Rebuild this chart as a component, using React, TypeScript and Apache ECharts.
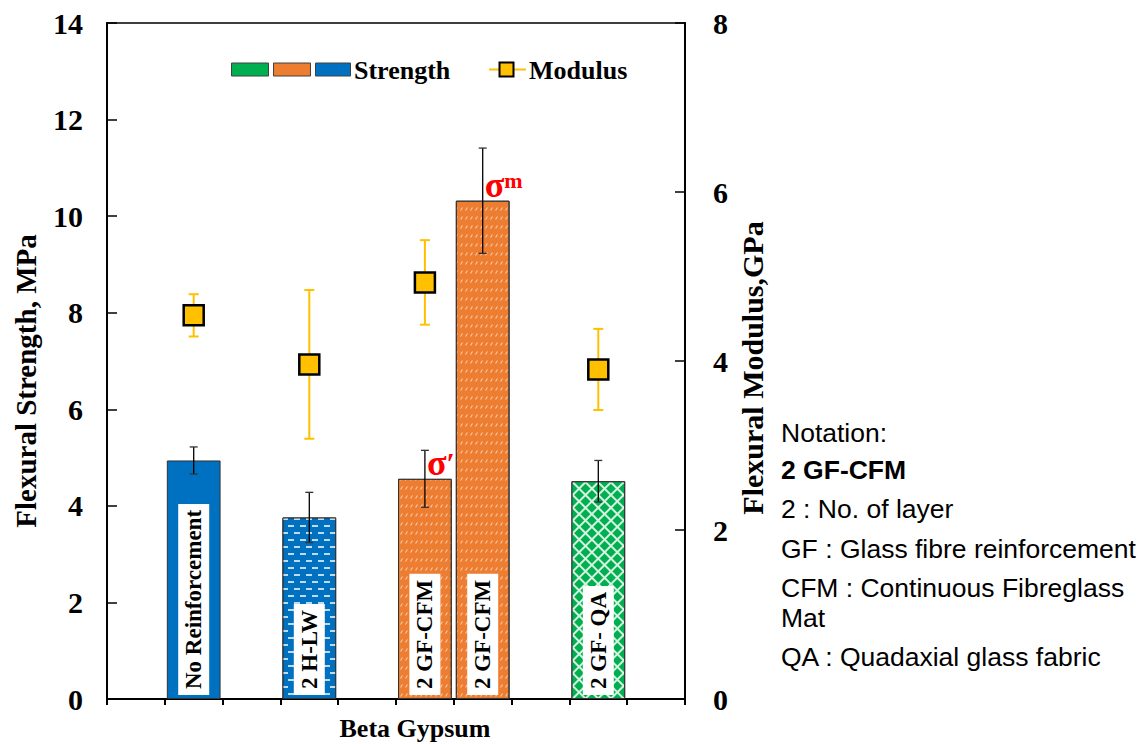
import React, { useEffect, useRef } from "react";
import * as echarts from "echarts";

// ---- data ----
const categories = ["", "", "", "", "", "", "", "", "", ""];
const barSlots = [1, 3, 5, 6, 8];
const barLabels = ["No Reinforcement", "2 H-LW", "2 GF-CFM", "2 GF-CFM", "2 GF- QA"];
const strength = [4.94, 3.76, 4.56, 10.32, 4.51];
const strengthErr = [0.28, 0.52, 0.59, 1.09, 0.43];
const barKinds = ["plain", "hlw", "cfm", "cfm", "qa"];
const modulusSlots = [1, 3, 5, 8];
const modulus = [4.54, 3.96, 4.93, 3.9];
const modulusErr = [0.25, 0.88, 0.5, 0.48];
const strengthAxis = { min: 0, max: 14, interval: 2 };
const modulusAxis = { min: 0, max: 8, interval: 2 };
const annotations = [
  { bar: 2, main: "σ", sup: "′" },
  { bar: 3, main: "σ", sup: "m" },
];
const notationLines = [
  { text: "Notation:", bold: false },
  { text: "2 GF-CFM", bold: true },
  { text: "2 : No. of layer", bold: false },
  { text: "GF : Glass fibre reinforcement", bold: false },
  { text: "CFM : Continuous Fibreglass", bold: false },
  { text: "Mat", bold: false },
  { text: "QA : Quadaxial glass fabric", bold: false },
];
const notationY = [433, 470, 509, 549, 588, 618, 657];

// ---- styles ----
const SERIF = '"Liberation Serif", "DejaVu Serif", serif';
const SANS = '"Liberation Sans", Arial, sans-serif';
const BLUE = "#0070C0";
const ORANGE = "#ED7D31";
const GREEN = "#00B050";
const GOLD = "#FFC000";

const kindStyle: Record<string, any> = {
  plain: { color: BLUE },
  hlw: {
    color: BLUE,
    decal: {
      symbol: "rect",
      symbolSize: 1,
      color: "rgba(255,255,255,0.75)",
      dashArrayX: [
        [6, 6],
        [0, 6, 6, 0],
      ],
      dashArrayY: [2, 5],
      rotation: 0,
    },
  },
  cfm: {
    color: ORANGE,
    decal: {
      symbol: "path://M3,0 L5,0 L2,5 L0,5 Z",
      symbolSize: 1,
      color: "rgba(255,255,255,0.6)",
      dashArrayX: [3, 2],
      dashArrayY: [4, 5],
      rotation: 0,
    },
  },
  qa: {
    color: "#d6f2e1",
    decal: {
      symbol: "rect",
      symbolSize: 1,
      color: GREEN,
      dashArrayX: [7, 1.6],
      dashArrayY: [7, 1.6],
      rotation: Math.PI / 4,
    },
  },
};

function errRender(color: string, capW: number, lw: number, capColor: string) {
  return (params: any, api: any) => {
    const x = api.value(0);
    const v = api.value(1);
    const e = api.value(2);
    const top = api.coord([x, v + e]);
    const bot = api.coord([x, v - e]);
    return {
      type: "group",
      children: [
        {
          type: "line",
          shape: { x1: top[0], y1: top[1], x2: bot[0], y2: bot[1] },
          style: { stroke: color, lineWidth: lw },
        },
        {
          type: "line",
          shape: { x1: top[0] - capW / 2, y1: top[1], x2: top[0] + capW / 2, y2: top[1] },
          style: { stroke: capColor, lineWidth: lw },
        },
        {
          type: "line",
          shape: { x1: bot[0] - capW / 2, y1: bot[1], x2: bot[0] + capW / 2, y2: bot[1] },
          style: { stroke: capColor, lineWidth: lw },
        },
      ],
    };
  };
}

export default function App() {
  const ref = useRef<HTMLDivElement>(null);

  useEffect(() => {
    if (!ref.current) return;
    const chart = echarts.init(ref.current, undefined, { renderer: "svg" });

    const barData = categories.map((_, i) => {
      const k = barSlots.indexOf(i);
      if (k < 0) return "-";
      const st = kindStyle[barKinds[k]];
      return {
        value: strength[k],
        itemStyle: { ...st, borderColor: "#333", borderWidth: 1 },
        label: { formatter: barLabels[k] },
      };
    });

    const strengthErrData = barSlots.map((s, k) => [s, strength[k], strengthErr[k]]);
    const modulusData = modulusSlots.map((s, k) => [s, modulus[k]]);
    const modulusErrData = modulusSlots.map((s, k) => [s, modulus[k], modulusErr[k]]);
    const annData = annotations.map((a) => [barSlots[a.bar], strength[a.bar], a.main, a.sup]);

    const axisLabelStyle = {
      color: "#000",
      fontFamily: SERIF,
      fontWeight: "bold" as const,
      fontSize: 30,
    };

    const option: any = {
      animation: false,
      backgroundColor: "#fff",
      grid: {
        left: 107,
        right: 458,
        top: 23,
        bottom: 45,
        show: true,
        borderColor: "#000",
        borderWidth: 1.5,
        backgroundColor: "transparent",
      },
      xAxis: {
        type: "category",
        data: categories,
        boundaryGap: true,
        axisLine: { show: true, lineStyle: { color: "#000", width: 2 } },
        axisTick: { show: true, interval: 0, length: 6, lineStyle: { color: "#000", width: 2 } },
        axisLabel: { show: false },
        splitLine: { show: false },
      },
      yAxis: [
        {
          type: "value",
          min: strengthAxis.min,
          max: strengthAxis.max,
          interval: strengthAxis.interval,
          position: "left",
          axisLine: { show: true, lineStyle: { color: "#000", width: 2 } },
          axisTick: { show: true, inside: true, length: 10, lineStyle: { color: "#000", width: 1.5 } },
          axisLabel: { ...axisLabelStyle, margin: 24 },
          splitLine: { show: false },
        },
        {
          type: "value",
          min: modulusAxis.min,
          max: modulusAxis.max,
          interval: modulusAxis.interval,
          position: "right",
          axisLine: { show: true, lineStyle: { color: "#000", width: 2 } },
          axisTick: { show: true, inside: true, length: 10, lineStyle: { color: "#000", width: 1.5 } },
          axisLabel: { ...axisLabelStyle, margin: 28 },
          splitLine: { show: false },
        },
      ],
      series: [
        {
          type: "bar",
          data: barData,
          barCategoryGap: "7%",
          z: 2,
          label: {
            show: true,
            position: "insideBottom",
            distance: 4,
            rotate: 90,
            align: "left",
            verticalAlign: "middle",
            backgroundColor: "#fff",
            padding: [4, 6, 4, 6],
            color: "#000",
            fontFamily: SERIF,
            fontWeight: "bold",
            fontSize: 23,
          },
        },
        {
          type: "custom",
          data: strengthErrData,
          z: 4,
          renderItem: errRender("#000", 8, 1.3, "#333"),
        },
        {
          type: "custom",
          yAxisIndex: 1,
          data: modulusErrData,
          z: 5,
          renderItem: errRender(GOLD, 10, 2, GOLD),
        },
        {
          type: "scatter",
          yAxisIndex: 1,
          data: modulusData,
          symbol: "rect",
          symbolSize: 20,
          z: 6,
          itemStyle: { color: GOLD, borderColor: "#000", borderWidth: 2.5, opacity: 1 },
        },
        {
          type: "custom",
          data: annData,
          z: 7,
          renderItem: (params: any, api: any) => {
            const d = annData[params.dataIndex];
            const pt = api.coord([d[0], d[1]]);
            return {
              type: "text",
              x: pt[0] + 2,
              y: pt[1] - 1,
              style: {
                text: "{a|" + d[2] + "}{b|" + d[3] + "}",
                align: "left",
                verticalAlign: "bottom",
                rich: {
                  a: { fontFamily: SERIF, fontWeight: "bold", fontSize: 36, fill: "#FF0000", color: "#FF0000", lineHeight: 30 },
                  b: {
                    fontFamily: SERIF,
                    fontWeight: "bold",
                    fontSize: d[3] === "m" ? 22 : 30,
                    fill: "#FF0000",
                    color: "#FF0000",
                    verticalAlign: "top",
                  },
                },
              },
            };
          },
        },
      ],
      graphic: [
        {
          type: "text",
          x: 26,
          y: 381,
          rotation: Math.PI / 2,
          style: {
            text: "Flexural Strength, MPa",
            fontFamily: SERIF,
            fontWeight: "bold",
            fontSize: 29,
            fill: "#000",
            align: "center",
            verticalAlign: "middle",
          },
        },
        {
          type: "text",
          x: 752,
          y: 368,
          rotation: Math.PI / 2,
          style: {
            text: "Flexural Modulus,GPa",
            fontFamily: SERIF,
            fontWeight: "bold",
            fontSize: 30,
            fill: "#000",
            align: "center",
            verticalAlign: "middle",
          },
        },
        {
          type: "text",
          x: 415,
          y: 728,
          style: {
            text: "Beta Gypsum",
            fontFamily: SERIF,
            fontWeight: "bold",
            fontSize: 26,
            fill: "#000",
            align: "center",
            verticalAlign: "middle",
          },
        },
        // legend
        { type: "rect", shape: { x: 231.5, y: 63, width: 37, height: 13 }, style: { fill: GREEN, stroke: "#404040", lineWidth: 1 } },
        { type: "rect", shape: { x: 273.5, y: 63, width: 37, height: 13 }, style: { fill: ORANGE, stroke: "#404040", lineWidth: 1 } },
        { type: "rect", shape: { x: 315.5, y: 63, width: 35, height: 13 }, style: { fill: BLUE, stroke: "#404040", lineWidth: 1 } },
        {
          type: "text",
          x: 354,
          y: 70,
          style: { text: "Strength", fontFamily: SERIF, fontWeight: "bold", fontSize: 26, fill: "#000", align: "left", verticalAlign: "middle" },
        },
        { type: "line", shape: { x1: 489, y1: 69.5, x2: 526, y2: 69.5 }, style: { stroke: GOLD, lineWidth: 2 } },
        { type: "rect", shape: { x: 499.5, y: 62.5, width: 14, height: 14 }, style: { fill: GOLD, stroke: "#000", lineWidth: 2 } },
        {
          type: "text",
          x: 529,
          y: 70,
          style: { text: "Modulus", fontFamily: SERIF, fontWeight: "bold", fontSize: 26, fill: "#000", align: "left", verticalAlign: "middle" },
        },
        // notation
        ...notationLines.map((ln, i) => ({
          type: "text",
          x: 781,
          y: notationY[i],
          style: {
            text: ln.text,
            fontFamily: SANS,
            fontWeight: ln.bold ? "bold" : "normal",
            fontSize: 26.5,
            fill: "#000",
            align: "left",
            verticalAlign: "middle",
          },
        })),
      ],
    };

    chart.setOption(option);
    return () => chart.dispose();
  }, []);

  return (
    <div
      ref={ref}
      style={{ position: "absolute", left: 0, top: 0, width: 1143, height: 744, background: "#fff" }}
    />
  );
}
